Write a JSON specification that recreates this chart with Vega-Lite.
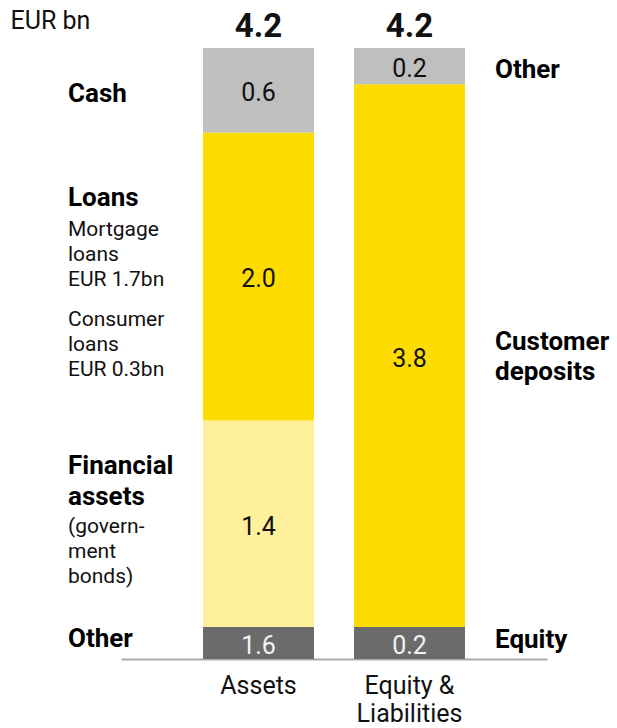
{
  "$schema": "https://vega.github.io/schema/vega-lite/v6.json",
  "autosize": {"type": "none"},
  "padding": {"left": 121, "top": 48, "right": 70, "bottom": 69},
  "width": 426,
  "height": 611,
  "config": {"view": {"stroke": null}, "font": "Roboto", "text": {"font": "Roboto"}},
  "data": {
    "values": [
      {"bar": "Assets", "segment": "Other assets", "order": 1, "value": 0.22, "label": "1.6", "title": "Other"},
      {"bar": "Assets", "segment": "Financial assets", "order": 2, "value": 1.42, "label": "1.4", "title": "Financial\nassets", "note1": "(govern-\nment\nbonds)"},
      {"bar": "Assets", "segment": "Loans", "order": 3, "value": 1.98, "label": "2.0", "title": "Loans", "note1": "Mortgage\nloans\nEUR 1.7bn", "note2": "Consumer\nloans\nEUR 0.3bn"},
      {"bar": "Assets", "segment": "Cash", "order": 4, "value": 0.58, "label": "0.6", "title": "Cash"},
      {"bar": "Equity & Liabilities", "segment": "Equity", "order": 1, "value": 0.22, "label": "0.2", "title": "Equity"},
      {"bar": "Equity & Liabilities", "segment": "Customer deposits", "order": 2, "value": 3.73, "label": "3.8", "title": "Customer\ndeposits"},
      {"bar": "Equity & Liabilities", "segment": "Other liabilities", "order": 3, "value": 0.25, "label": "0.2", "title": "Other"}
    ]
  },
  "transform": [
    {"stack": "value", "groupby": ["bar"], "sort": [{"field": "order", "order": "ascending"}], "as": ["y0", "y1"]},
    {"calculate": "(datum.y0 + datum.y1) / 2", "as": "mid"}
  ],
  "layer": [
    {
      "mark": {"type": "bar"},
      "encoding": {
        "x": {
          "field": "bar", "type": "nominal", "sort": null,
          "scale": {"domain": ["Assets", "Equity & Liabilities"], "paddingInner": 0.265, "paddingOuter": 0.543},
          "axis": {
            "title": null, "ticks": false, "domainColor": "#aaaaaa", "domainWidth": 2,
            "labelFont": "Roboto", "labelFontSize": 25, "labelColor": "#111111", "labelPadding": 14,
            "labelLineHeight": 28, "labelAngle": 0,
            "labelExpr": "datum.value == 'Equity & Liabilities' ? ['Equity &', 'Liabilities'] : datum.value"
          }
        },
        "y": {
          "field": "y1", "type": "quantitative",
          "scale": {"domain": [0, 4.2], "nice": false, "zero": true},
          "axis": {
            "domain": false, "ticks": false, "labels": false, "grid": false,
            "title": "EUR bn", "titleAngle": 0, "titleX": -111, "titleY": -20,
            "titleAlign": "left", "titleBaseline": "alphabetic",
            "titleFont": "Roboto", "titleFontSize": 25, "titleFontWeight": "normal", "titleColor": "#111111"
          }
        },
        "y2": {"field": "y0"},
        "color": {
          "field": "segment", "type": "nominal", "legend": null,
          "scale": {
            "domain": ["Other assets", "Financial assets", "Loans", "Cash", "Equity", "Customer deposits", "Other liabilities"],
            "range": ["#6b6b6b", "#fff09b", "#ffdc00", "#bfbfbf", "#6b6b6b", "#ffdc00", "#bfbfbf"]
          }
        }
      }
    },
    {
      "mark": {"type": "text", "font": "Roboto", "fontSize": 25, "baseline": "alphabetic", "dy": 11},
      "encoding": {
        "x": {"field": "bar", "type": "nominal"},
        "y": {"field": "mid", "type": "quantitative"},
        "text": {"field": "label"},
        "color": {
          "condition": {"test": "datum.segment === 'Other assets' || datum.segment === 'Equity'", "value": "#f2f2f2"},
          "value": "#111111"
        }
      }
    },
    {
      "mark": {"type": "text", "font": "Roboto", "fontSize": 33, "fontWeight": "bold", "baseline": "alphabetic", "dy": -11, "color": "#111111"},
      "encoding": {
        "x": {"field": "bar", "type": "nominal"},
        "y": {"aggregate": "sum", "field": "value", "type": "quantitative", "stack": null},
        "text": {"aggregate": "sum", "field": "value", "type": "quantitative", "format": ".1f"}
      }
    },
    {
      "transform": [{"filter": "datum.segment === 'Cash'"}],
      "mark": {"type": "text", "font": "Roboto", "fontSize": 26, "fontWeight": "bold", "align": "left", "baseline": "alphabetic", "dx": -135, "dy": 12, "color": "#000000", "lineBreak": "\n"},
      "encoding": {
        "x": {"field": "bar", "type": "nominal", "bandPosition": 0},
        "y": {"field": "mid", "type": "quantitative"},
        "text": {"field": "title"}
      }
    },
    {
      "transform": [{"filter": "datum.segment === 'Loans'"}],
      "mark": {"type": "text", "font": "Roboto", "fontSize": 26, "fontWeight": "bold", "align": "left", "baseline": "alphabetic", "dx": -135, "dy": -70, "color": "#000000", "lineBreak": "\n"},
      "encoding": {
        "x": {"field": "bar", "type": "nominal", "bandPosition": 0},
        "y": {"field": "mid", "type": "quantitative"},
        "text": {"field": "title"}
      }
    },
    {
      "transform": [{"filter": "datum.segment === 'Loans'"}],
      "mark": {"type": "text", "font": "Roboto", "fontSize": 21, "align": "left", "baseline": "alphabetic", "dx": -135, "dy": -40, "lineHeight": 25, "color": "#111111", "lineBreak": "\n"},
      "encoding": {
        "x": {"field": "bar", "type": "nominal", "bandPosition": 0},
        "y": {"field": "mid", "type": "quantitative"},
        "text": {"field": "note1"}
      }
    },
    {
      "transform": [{"filter": "datum.segment === 'Loans'"}],
      "mark": {"type": "text", "font": "Roboto", "fontSize": 21, "align": "left", "baseline": "alphabetic", "dx": -135, "dy": 50, "lineHeight": 25, "color": "#111111", "lineBreak": "\n"},
      "encoding": {
        "x": {"field": "bar", "type": "nominal", "bandPosition": 0},
        "y": {"field": "mid", "type": "quantitative"},
        "text": {"field": "note2"}
      }
    },
    {
      "transform": [{"filter": "datum.segment === 'Financial assets'"}],
      "mark": {"type": "text", "font": "Roboto", "fontSize": 26, "fontWeight": "bold", "align": "left", "baseline": "alphabetic", "dx": -135, "dy": -50, "lineHeight": 31, "color": "#000000", "lineBreak": "\n"},
      "encoding": {
        "x": {"field": "bar", "type": "nominal", "bandPosition": 0},
        "y": {"field": "mid", "type": "quantitative"},
        "text": {"field": "title"}
      }
    },
    {
      "transform": [{"filter": "datum.segment === 'Financial assets'"}],
      "mark": {"type": "text", "font": "Roboto", "fontSize": 21, "align": "left", "baseline": "alphabetic", "dx": -135, "dy": 9, "lineHeight": 25, "color": "#111111", "lineBreak": "\n"},
      "encoding": {
        "x": {"field": "bar", "type": "nominal", "bandPosition": 0},
        "y": {"field": "mid", "type": "quantitative"},
        "text": {"field": "note1"}
      }
    },
    {
      "transform": [{"filter": "datum.segment === 'Other assets'"}],
      "mark": {"type": "text", "font": "Roboto", "fontSize": 26, "fontWeight": "bold", "align": "left", "baseline": "alphabetic", "dx": -135, "dy": 4, "color": "#000000", "lineBreak": "\n"},
      "encoding": {
        "x": {"field": "bar", "type": "nominal", "bandPosition": 0},
        "y": {"field": "mid", "type": "quantitative"},
        "text": {"field": "title"}
      }
    },
    {
      "transform": [{"filter": "datum.segment === 'Other liabilities'"}],
      "mark": {"type": "text", "font": "Roboto", "fontSize": 26, "fontWeight": "bold", "align": "left", "baseline": "alphabetic", "dx": 30, "dy": 11.5, "color": "#000000", "lineBreak": "\n"},
      "encoding": {
        "x": {"field": "bar", "type": "nominal", "bandPosition": 1},
        "y": {"field": "mid", "type": "quantitative"},
        "text": {"field": "title"}
      }
    },
    {
      "transform": [{"filter": "datum.segment === 'Customer deposits'"}],
      "mark": {"type": "text", "font": "Roboto", "fontSize": 26, "fontWeight": "bold", "align": "left", "baseline": "alphabetic", "dx": 30, "dy": -6, "lineHeight": 30, "color": "#000000", "lineBreak": "\n"},
      "encoding": {
        "x": {"field": "bar", "type": "nominal", "bandPosition": 1},
        "y": {"field": "mid", "type": "quantitative"},
        "text": {"field": "title"}
      }
    },
    {
      "transform": [{"filter": "datum.segment === 'Equity'"}],
      "mark": {"type": "text", "font": "Roboto", "fontSize": 26, "fontWeight": "bold", "align": "left", "baseline": "alphabetic", "dx": 30, "dy": 5, "color": "#000000", "lineBreak": "\n"},
      "encoding": {
        "x": {"field": "bar", "type": "nominal", "bandPosition": 1},
        "y": {"field": "mid", "type": "quantitative"},
        "text": {"field": "title"}
      }
    }
  ]
}
